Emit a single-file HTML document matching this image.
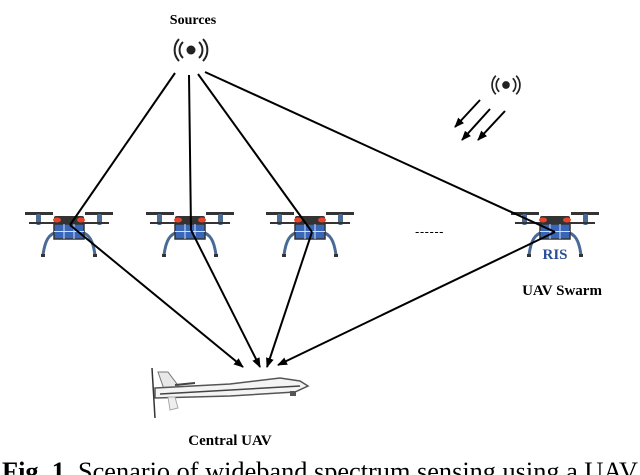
<!DOCTYPE html>
<html><head><style>
html,body{margin:0;padding:0;background:#fff;}
body{width:640px;height:475px;overflow:hidden;position:relative;}
svg{position:absolute;left:0;top:0;}
</style></head><body>
<svg width="640" height="475" viewBox="0 0 640 475" xmlns="http://www.w3.org/2000/svg">
<defs>
<marker id="ah" markerWidth="10" markerHeight="10" refX="9" refY="5" orient="auto" markerUnits="userSpaceOnUse">
<path d="M0,1 L10,5 L0,9 Z" fill="#000"/>
</marker>
<g id="drone">
  <rect x="-44" y="-10" width="28" height="3" fill="#333"/>
  <rect x="16" y="-10" width="28" height="3" fill="#333"/>
  <rect x="-33" y="-8" width="5" height="11" rx="2" fill="#4a6a96"/>
  <rect x="28" y="-8" width="5" height="11" rx="2" fill="#4a6a96"/>
  <rect x="-40" y="0" width="80" height="2" fill="#333"/>
  <path d="M-12,10 C-20,12 -24,18 -26,33" stroke="#4a6a96" stroke-width="3" fill="none"/>
  <path d="M12,10 C20,12 24,18 26,33" stroke="#4a6a96" stroke-width="3" fill="none"/>
  <rect x="-28" y="32" width="4" height="3" fill="#333"/>
  <rect x="24" y="32" width="4" height="3" fill="#333"/>
  <rect x="-15" y="-6" width="30" height="8" rx="2" fill="#333"/>
  <rect x="-15" y="2" width="30" height="15" fill="#3a66b8" stroke="#333" stroke-width="1.5"/>
  <path d="M-5,2 V17 M5,2 V17 M-15,9.5 H15" stroke="#cfe0ff" stroke-width="1"/>
  <ellipse cx="-12" cy="-2" rx="4" ry="2.5" fill="#e8442c"/>
  <ellipse cx="12" cy="-2" rx="4" ry="2.5" fill="#e8442c"/>
</g>
<g id="sig">
  <circle cx="0" cy="0" r="4.5" fill="#222"/>
  <path d="M-8,-8 A11,11 0 0 0 -8,8 M8,-8 A11,11 0 0 1 8,8" stroke="#222" stroke-width="2" fill="none"/>
  <path d="M-12,-11 A16,16 0 0 0 -12,11 M12,-11 A16,16 0 0 1 12,11" stroke="#222" stroke-width="2" fill="none"/>
</g>
</defs>
<text x="193" y="24" font-family="Liberation Serif, serif" font-weight="bold" font-size="14" text-anchor="middle">Sources</text>
<use href="#sig" x="191" y="50"/>
<use href="#sig" transform="translate(506,85) scale(0.85)"/>
<g stroke="#000" stroke-width="2" marker-end="url(#ah)">
<line x1="480" y1="100" x2="455" y2="127"/>
<line x1="490" y1="109" x2="462" y2="140"/>
<line x1="505" y1="111" x2="478" y2="140"/>
</g>
<use href="#drone" x="69" y="222"/>
<use href="#drone" x="190" y="222"/>
<use href="#drone" x="310" y="222"/>
<use href="#drone" x="555" y="222"/>
<g stroke="#000" stroke-width="2" fill="none">
<line x1="175" y1="73" x2="70" y2="225"/>
<line x1="189" y1="75" x2="191" y2="230"/>
<line x1="198" y1="74" x2="312" y2="232"/>
<line x1="205" y1="72" x2="555" y2="232"/>
</g>
<g stroke="#000" stroke-width="2" marker-end="url(#ah)">
<line x1="70" y1="225" x2="243" y2="367"/>
<line x1="191" y1="230" x2="260" y2="367"/>
<line x1="312" y1="232" x2="267" y2="367"/>
<line x1="555" y1="232" x2="278" y2="365"/>
</g>
<text x="415" y="236" font-family="Liberation Sans, sans-serif" font-size="13" letter-spacing="0.5">------</text>
<text x="555" y="259" font-family="Liberation Serif, serif" font-weight="bold" font-size="15" fill="#2a4e9a" text-anchor="middle">RIS</text>
<text x="562" y="295" font-family="Liberation Serif, serif" font-weight="bold" font-size="15" text-anchor="middle">UAV Swarm</text>
<g>
  <line x1="152" y1="368" x2="155" y2="418" stroke="#333" stroke-width="1.5"/>
  <path d="M158,372 L168,372 L180,388 L165,392 Z" fill="#e8e8e8" stroke="#777" stroke-width="1"/>
  <path d="M155,388 L230,384 L280,378 L300,381 L308,386 L295,392 L230,396 L155,398 Z" fill="#f4f4f4" stroke="#555" stroke-width="1.5"/>
  <path d="M160,394 L300,386" stroke="#444" stroke-width="1.5"/>
  <line x1="175" y1="385" x2="195" y2="383" stroke="#444" stroke-width="2"/>
  <rect x="290" y="391" width="6" height="5" fill="#555"/>
  <path d="M168,397 L175,397 L178,408 L170,410 Z" fill="#eee" stroke="#aaa" stroke-width="1"/>
</g>
<text x="230" y="445" font-family="Liberation Serif, serif" font-weight="bold" font-size="15" text-anchor="middle">Central UAV</text>
<text x="2" y="480" font-family="Liberation Serif, serif" font-size="26" textLength="636" lengthAdjust="spacingAndGlyphs"><tspan font-weight="bold">Fig. 1.</tspan> Scenario of wideband spectrum sensing using a UAV</text>
</svg>
</body></html>
